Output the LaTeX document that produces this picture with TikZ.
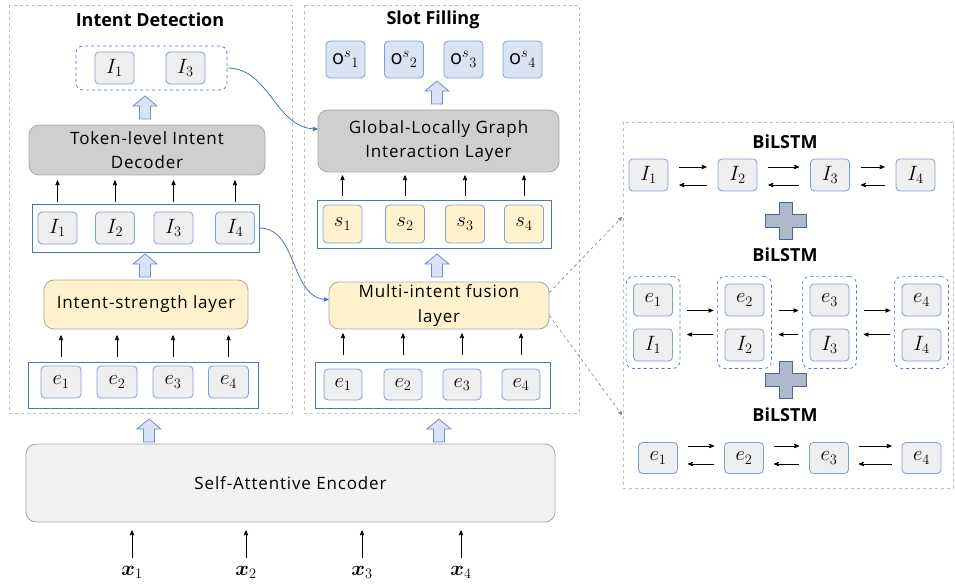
\documentclass[tikz,border=0pt]{standalone}
\usepackage{fontspec}
\setmainfont{Open Sans}
\newfontfamily\layerfont[LetterSpace=5]{Open Sans}
\usepackage{bm}
\usetikzlibrary{arrows}
\usetikzlibrary{fit}

\definecolor{cellbd}{HTML}{7F9FCF}
\definecolor{cellfill}{HTML}{EFEFEF}
\definecolor{osfill}{HTML}{DAE3F3}
\definecolor{yel}{HTML}{FFF2CC}
\definecolor{rowbd}{HTML}{4A74BE}
\definecolor{panelbd}{HTML}{BFBFBF}
\definecolor{decgray}{HTML}{D0CECE}
\definecolor{laybd}{HTML}{A6A6A6}
\definecolor{encfill}{HTML}{F2F2F2}
\definecolor{arrfill}{HTML}{DAE3F3}
\definecolor{arrbd}{HTML}{6F8FCA}
\definecolor{plusfill}{HTML}{ADB9CA}
\definecolor{plusbd}{HTML}{4D6594}
\definecolor{curveblue}{HTML}{4472C4}

\begin{document}
\begin{tikzpicture}[x=1pt, y=-1pt,
 cell/.style={draw=cellbd, fill=cellfill, line width=0.8pt, rounded corners=4pt, minimum width=39pt, minimum height=32pt, inner sep=0pt, font=\fontsize{20}{22}\selectfont},
 row/.style={draw=rowbd, line width=0.9pt, inner sep=0pt},
 grp/.style={draw=rowbd, dashed, line width=0.7pt, rounded corners=7pt},
 panel/.style={draw=panelbd, dashed, line width=0.6pt},
 layer/.style={draw=laybd, line width=0.8pt, rounded corners=10pt, inner sep=0pt, align=center, font=\layerfont\fontsize{17}{24.5}\selectfont},
 sarr/.style={black, line width=0.8pt, ->, >=stealth'},
 curve/.style={curveblue, line width=0.8pt, ->, >=stealth'},
 gdash/.style={gray, dashed, line width=0.6pt, ->, >=stealth'},
 title/.style={font=\bfseries\fontsize{18}{20}\selectfont},
 plusst/.style={draw=plusbd, fill=plusfill, line width=0.9pt},
 uparr/.pic={\draw[draw=arrbd, fill=arrfill, line width=0.8pt] (-5.5,0) -- (-5.5,-13) -- (-12,-13) -- (0,-23) -- (12,-13) -- (5.5,-13) -- (5.5,0) -- cycle;}
]
\useasboundingbox (0,0) rectangle (955,585);

% panels
\draw[panel] (9,5) rectangle (292,413);
\draw[panel] (304,5) rectangle (579,413);
\draw[panel] (623,122) rectangle (953,488);

% intent detection
\node[title] (tID) at (150,20) {Intent Detection};
\node[grp, minimum width=151pt, minimum height=44pt] (topI) at (151.5,68) {};
\node[cell] (tI1) at (114.5,68) {$I_1$};
\node[cell] (tI3) at (185.5,68) {$I_3$};
\pic at (145,119) {uparr};
\node[layer, fill=decgray, minimum width=236pt, minimum height=50pt] (dec) at (147,150) {Token-level Intent\\Decoder};
\node[row, minimum width=227pt, minimum height=48pt] (rowI) at (145.5,228) {};
\foreach \i/\x in {1/57.5,2/115,3/173.5,4/235} {
 \node[cell] (iI\i) at (\x,228) {$I_\i$};
 \draw[sarr, shorten <=2pt, shorten >=5pt] (iI\i.north |- rowI.north) -- (iI\i.north |- dec.south);
}
\pic at (145,277) {uparr};
\node[layer, fill=yel, minimum width=204pt, minimum height=49pt] (str) at (146,304.5) {Intent-strength layer};
\node[row, minimum width=230pt, minimum height=46pt] (rowEL) at (143,385) {};
\foreach \i/\x in {1/61,2/117,3/173,4/228.5} {
 \node[cell, minimum width=40pt] (eL\i) at (\x,382) {$e_\i$};
 \draw[sarr, shorten <=5pt, shorten >=6pt] (eL\i.north |- rowEL.north) -- (eL\i.north |- str.south);
}

% slot filling
\node[title] (tSF) at (433,20) {Slot Filling};
\foreach \i/\x in {1/345.5,2/404,3/463.5,4/522.5}
 \node[cell, fill=osfill, minimum height=37pt] (oS\i) at (\x,59.5) {$\mathrm{o}^{s}{}_{\i}$};
\pic at (437,104) {uparr};
\node[layer, fill=decgray, minimum width=241pt, minimum height=62pt] (glb) at (438.5,141) {Global-Locally Graph\\Interaction Layer};
\node[row, minimum width=234pt, minimum height=48pt] (rowS) at (434,224) {};
\foreach \i/\x in {1/342.5,2/405,3/465,4/524} {
 \node[cell, fill=yel, minimum height=38pt] (sS\i) at (\x,224) {$s_\i$};
 \draw[sarr, shorten <=4pt, shorten >=3pt] (sS\i.north |- rowS.north) -- (sS\i.north |- glb.south);
}
\pic at (437,277) {uparr};
\node[layer, fill=yel, minimum width=220pt, minimum height=47pt] (fus) at (439,305.5) {Multi-intent fusion\\layer};
\node[row, minimum width=235pt, minimum height=46pt] (rowER) at (432.5,385) {};
\foreach \i/\x in {1/343,2/403,3/462,4/521} {
 \node[cell, minimum width=38pt, minimum height=31pt] (eR\i) at (\x,384.5) {$e_\i$};
 \draw[sarr, shorten <=7pt, shorten >=4pt] (eR\i.north |- rowER.north) -- (eR\i.north |- fus.south);
}

% encoder
\node[layer, fill=encfill, minimum width=529pt, minimum height=78pt] (enc) at (290.5,483) {Self-Attentive Encoder};
\pic at (149,442) {uparr};
\pic at (439,442) {uparr};
\foreach \i/\x in {1/132,2/246,3/362,4/461} {
 \node[font=\fontsize{20}{22}\selectfont] (xin\i) at (\x,572) {$\bm{x}_\i$};
 \draw[sarr, shorten <=4pt, shorten >=8pt] (xin\i.north) -- (xin\i.north |- enc.south);
}

% cross links
\draw[curve] (topI.east) to[out=0, in=180] ([yshift=12pt]glb.west);
\draw[curve] (rowI.east) to[out=0, in=180] ([yshift=6pt]fus.west);
\coordinate (rin1) at (622,217);
\coordinate (rin2) at (622,415);
\draw[gdash] ([yshift=13pt]fus.east) -- (rin1);
\draw[gdash] ([yshift=-10pt]fus.east) -- (rin2);

% BiLSTM over intents
\node[title] (bl1) at (785,142) {BiLSTM};
\foreach \i/\x in {1/648.5,2/737.5,3/830,4/915.5}
 \node[cell] (bI\i) at (\x,175) {$I_\i$};
\foreach \a/\b in {1/2,2/3,3/4} {
 \draw[sarr] ([xshift=11pt,yshift=8pt]bI\a.east) -- ([xshift=-11pt,yshift=8pt]bI\b.west);
 \draw[sarr] ([xshift=-11pt,yshift=-10pt]bI\b.west) -- ([xshift=11pt,yshift=-10pt]bI\a.east);
}

% plus signs
\foreach \c in {221,380}
 \draw[plusst] (786,\c) ++(-20.5,-6.5) -- ++(14,0) -- ++(0,-12) -- ++(13,0) -- ++(0,12) -- ++(14,0)
  -- ++(0,13) -- ++(-14,0) -- ++(0,12) -- ++(-13,0) -- ++(0,-12) -- ++(-14,0) -- cycle;

% BiLSTM over pairs
\node[title] (bl2) at (785,255) {BiLSTM};
\foreach \i/\x in {1/653,2/744.5,3/829.5,4/921.5} {
 \node[cell] (mE\i) at (\x,300) {$e_\i$};
 \node[cell] (mI\i) at (\x,345) {$I_\i$};
 \node[grp, fit=(mE\i)(mI\i), inner sep=7pt] (g\i) {};
}
\foreach \a/\b in {1/2,2/3,3/4} {
 \draw[sarr] ([xshift=7pt,yshift=12pt]g\a.east) -- ([xshift=-4pt,yshift=12pt]g\b.west);
 \draw[sarr] ([xshift=-4pt,yshift=-12pt]g\b.west) -- ([xshift=7pt,yshift=-12pt]g\a.east);
}

% BiLSTM over tokens
\node[title] (bl3) at (785,415) {BiLSTM};
\foreach \i/\x in {1/658,2/744,3/829,4/921.5}
 \node[cell, minimum height=31pt] (bE\i) at (\x,458) {$e_\i$};
\foreach \a/\b in {1/2,2/3,3/4} {
 \draw[sarr] ([xshift=10pt,yshift=12pt]bE\a.east) -- ([xshift=-10pt,yshift=12pt]bE\b.west);
 \draw[sarr] ([xshift=-10pt,yshift=-6pt]bE\b.west) -- ([xshift=10pt,yshift=-6pt]bE\a.east);
}
\end{tikzpicture}
\end{document}
